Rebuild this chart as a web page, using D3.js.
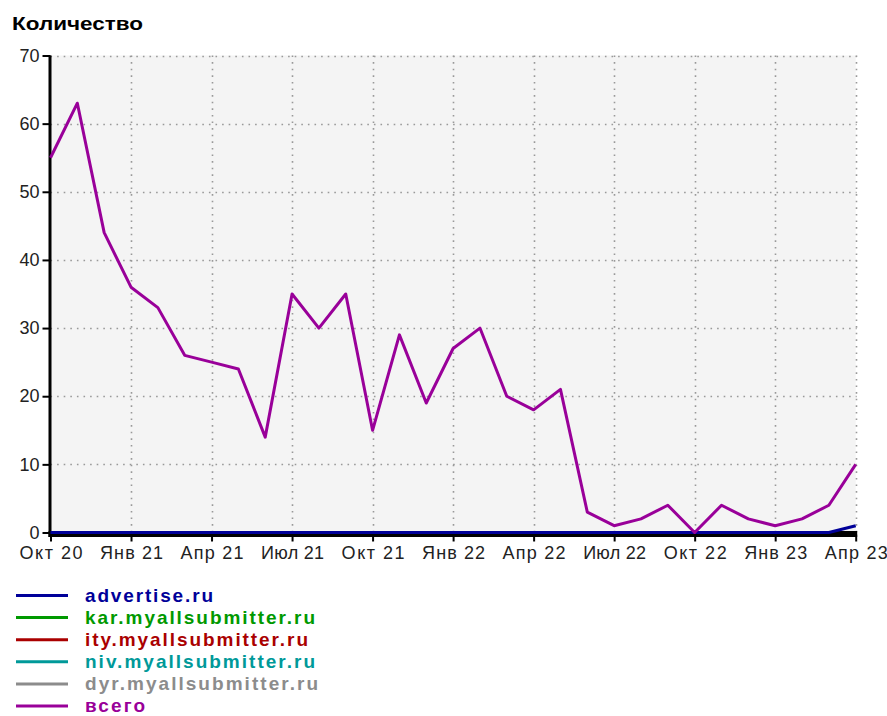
<!DOCTYPE html>
<html>
<head>
<meta charset="utf-8">
<script src="https://cdn.jsdelivr.net/npm/d3@7"></script>
<style>
  html, body { margin: 0; padding: 0; background: #ffffff; }
  svg { display: block; }
  text { font-family: "Liberation Sans", Arial, sans-serif; }
</style>
</head>
<body>
<svg id="chart" width="887" height="716"></svg>
<script>
// ---- data ----
const months = ["Окт 20","Ноя 20","Дек 20","Янв 21","Фев 21","Мар 21","Апр 21","Май 21","Июн 21","Июл 21","Авг 21","Сен 21",
                "Окт 21","Ноя 21","Дек 21","Янв 22","Фев 22","Мар 22","Апр 22","Май 22","Июн 22","Июл 22","Авг 22","Сен 22",
                "Окт 22","Ноя 22","Дек 22","Янв 23","Фев 23","Мар 23","Апр 23"];
const tickLabels = ["Окт 20","Янв 21","Апр 21","Июл 21","Окт 21","Янв 22","Апр 22","Июл 22","Окт 22","Янв 23","Апр 23"];
const yTicks = [0,10,20,30,40,50,60,70];

const seriesNames = ["advertise.ru","kar.myallsubmitter.ru","ity.myallsubmitter.ru","niv.myallsubmitter.ru","dyr.myallsubmitter.ru","всего"];
const seriesColors = ["#000099","#009900","#aa0000","#009999","#8c8c8c","#990099"];

const advertise = [0,0,0,0,0,0,0,0,0,0,0,0,0,0,0,0,0,0,0,0,0,0,0,0,0,0,0,0,0,0,1];
const kar       = [0,0,0,0,0,0,0,0,0,0,0,0,0,0,0,0,0,0,0,0,0,0,0,0,0,0,0,0,0,0,0];
const ity       = [0,0,0,0,0,0,0,0,0,0,0,0,0,0,0,0,0,0,0,0,0,0,0,0,0,0,0,0,0,0,0];
const niv       = [0,0,0,0,0,0,0,0,0,0,0,0,0,0,0,0,0,0,0,0,0,0,0,0,0,0,0,0,0,0,0];
const dyr       = [0,0,0,0,0,0,0,0,0,0,0,0,0,0,0,0,0,0,0,0,0,0,0,0,0,0,0,0,0,0,0];
const total     = [55,63,44,36,33,26,25,24,14,35,30,35,15,29,19,27,30,20,18,21,3,1,2,4,0,4,2,1,2,4,10];

const seriesValues = [advertise, kar, ity, niv, dyr, total];

// ---- layout ----
const svg = d3.select("#chart");
const x0 = 50.5, x1 = 855.7, yTop = 55.5, yBottom = 532.5;

const x = d3.scaleLinear().domain([0, months.length - 1]).range([x0, x1]);
const y = d3.scaleLinear().domain([0, 70]).range([yBottom, yTop]);

// title
svg.append("text")
  .attr("x", 12).attr("y", 30)
  .attr("font-size", 19).attr("font-weight", "bold")
  .attr("textLength", 131).attr("lengthAdjust", "spacingAndGlyphs")
  .attr("fill", "#000")
  .text("Количество");

// plot background
svg.append("rect")
  .attr("x", x0).attr("y", yTop)
  .attr("width", x1 - x0).attr("height", yBottom - yTop)
  .attr("fill", "#f4f4f4");

// grid
const grid = svg.append("g").attr("stroke", "#999").attr("stroke-width", 1.6).attr("stroke-dasharray", "1.6,5");
grid.selectAll("line.h").data(yTicks.filter(d => d > 0)).join("line")
  .attr("x1", x0).attr("x2", x1 + 1)
  .attr("y1", d => Math.round(y(d)) + 0.5).attr("y2", d => Math.round(y(d)) + 0.5);
const tickIdx = tickLabels.map((t) => months.indexOf(t));
grid.selectAll("line.v").data(tickIdx.filter(i => i > 0)).join("line")
  .attr("x1", d => Math.round(x(d)) + 0.5).attr("x2", d => Math.round(x(d)) + 0.5)
  .attr("y1", yTop).attr("y2", yBottom);

// zero-level site series (mostly hidden by the axis)
const line = d3.line().x((d, i) => x(i)).y(d => y(d));
svg.append("g").selectAll("path").data([4,3,2,1]).join("path")
  .attr("d", k => line(seriesValues[k]))
  .attr("fill", "none")
  .attr("stroke", k => seriesColors[k])
  .attr("stroke-width", 3)
  .attr("stroke-linejoin", "round");

// y axis
const yAxis = d3.axisLeft(y).tickValues(yTicks).tickSize(8).tickPadding(3).tickFormat(d3.format("d"));
const gy = svg.append("g").attr("transform", `translate(${x0},0)`).call(yAxis);
gy.select(".domain").remove();
gy.selectAll(".tick line").attr("stroke", "#000").attr("stroke-width", 2);
gy.selectAll(".tick text").attr("font-size", 18).attr("fill", "#222").attr("font-family", "Liberation Sans, Arial, sans-serif");

svg.append("line").attr("x1", x0 - 0.5).attr("x2", x0 - 0.5).attr("y1", yTop).attr("y2", yBottom + 4.5)
  .attr("stroke", "#000").attr("stroke-width", 3);

// x axis
const xAxis = d3.axisBottom(x).tickValues(tickIdx).tickSize(7).tickPadding(5).tickFormat(i => months[i]);
const gx = svg.append("g").attr("transform", `translate(0,${yBottom + 2})`).call(xAxis);
gx.select(".domain").remove();
gx.selectAll(".tick line").attr("stroke", "#000").attr("stroke-width", 2);
gx.selectAll(".tick text").attr("font-size", 18).attr("fill", "#222").attr("font-family", "Liberation Sans, Arial, sans-serif")
  .attr("textLength", 63).attr("lengthAdjust", "spacing");

svg.append("rect").attr("x", x0 - 2).attr("y", yBottom - 1.5).attr("width", x1 + 1.5 - (x0 - 2)).attr("height", 6)
  .attr("fill", "#000");

// advertise.ru and total on top
svg.append("g").selectAll("path").data([0,5]).join("path")
  .attr("d", k => line(seriesValues[k]))
  .attr("fill", "none")
  .attr("stroke", k => seriesColors[k])
  .attr("stroke-width", 3)
  .attr("stroke-linejoin", "round");

// legend
const legendY0 = 595.5, legendStep = 22.1;
const legendWidths = [128, 230, 223, 230, 233, 60];
const lg = svg.append("g").selectAll("g").data(seriesNames).join("g")
  .attr("transform", (d, i) => `translate(0,${legendY0 + i * legendStep})`);
lg.append("line").attr("x1", 16).attr("x2", 68).attr("y1", 0).attr("y2", 0)
  .attr("stroke", (d, i) => seriesColors[i]).attr("stroke-width", 3);
lg.append("text").attr("x", 85).attr("y", 6)
  .attr("font-size", 19).attr("font-weight", "bold")
  .attr("fill", (d, i) => seriesColors[i])
  .attr("textLength", (d, i) => legendWidths[i]).attr("lengthAdjust", "spacing")
  .text(d => d);
</script>
</body>
</html>
